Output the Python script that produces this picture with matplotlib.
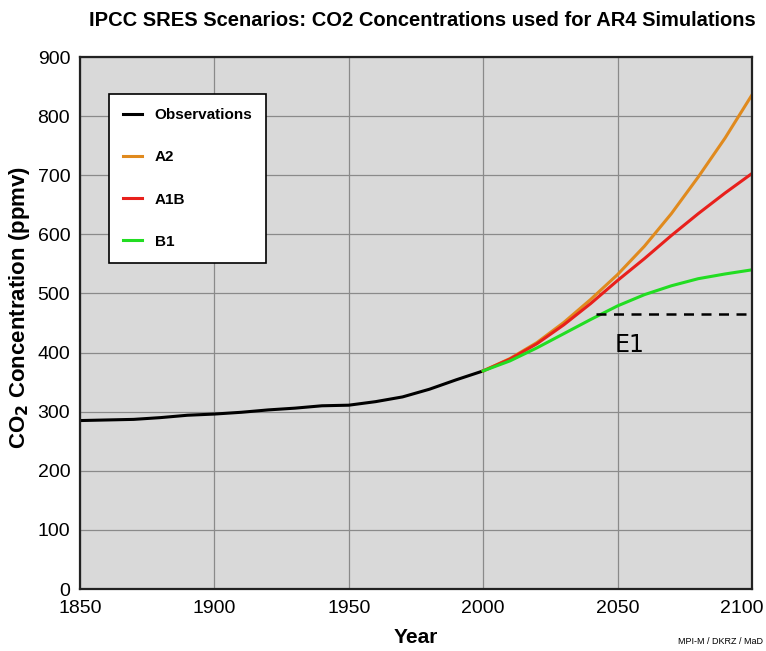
import matplotlib
matplotlib.use("Agg")
import matplotlib.pyplot as plt
import matplotlib.transforms as mtransforms

# observed CO2 (ppmv)
obs_years = [1850, 1860, 1870, 1880, 1890, 1900, 1910, 1920, 1930, 1940,
             1950, 1960, 1970, 1980, 1990, 2000]
obs_co2 = [285, 286, 287, 290, 294, 296, 299, 303, 306, 310,
           311, 317, 325, 338, 354, 369]

# SRES scenarios
scen_years = [2000, 2010, 2020, 2030, 2040, 2050, 2060, 2070, 2080, 2090, 2100]
a2 = [369, 390, 417, 451, 490, 532, 580, 635, 697, 763, 836]
a1b = [369, 389, 415, 447, 483, 522, 559, 598, 635, 670, 703]
b1 = [369, 386, 408, 432, 456, 479, 498, 513, 525, 533, 540]

e1_level = 465
e1_span = [2042, 2099]

xticks = [1850, 1900, 1950, 2000, 2050, 2100]
yticks = [0, 100, 200, 300, 400, 500, 600, 700, 800, 900]

plt.rcParams['font.family'] = ['Liberation Sans', 'DejaVu Sans']

fig = plt.figure(figsize=(7.66, 6.51), dpi=100)
ax = fig.add_axes([0.1044, 0.0952, 0.8773, 0.8172])
ax.set_facecolor('#d9d9d9')

ax.plot(obs_years, obs_co2, color='black', lw=2.2, label='Observations')
ax.plot(scen_years, a2, color='#e08a1e', lw=2.2, label='A2')
ax.plot(scen_years, a1b, color='#e8201c', lw=2.2, label='A1B')
ax.plot(scen_years, b1, color='#22dd22', lw=2.2, label='B1')

ax.hlines(e1_level, e1_span[0], e1_span[1], colors='black',
          linestyles=(0, (4, 3)), lw=1.8)
ax.text(2049, 413, 'E1', fontsize=17, family='DejaVu Sans',
        va='center', ha='left')

ax.set_xlim(1850, 2100)
ax.set_ylim(0, 900)
ax.set_xticks(xticks)
ax.set_yticks(yticks)
ax.tick_params(length=0, labelsize=14)
ax.tick_params(axis='x', pad=8)
ax.tick_params(axis='y', pad=7)
ax.grid(True, color='#8a8a8a', lw=0.9)
ax.set_axisbelow(True)
for s in ax.spines.values():
    s.set_linewidth(1.6)
    s.set_color('#222222')

# last year label pulled in so it stays inside the figure
fig.canvas.draw()
last = ax.get_xticklabels()[-1]
last.set_transform(last.get_transform() +
                   mtransforms.ScaledTranslation(-10 / 100, 0, fig.dpi_scale_trans))

ax.set_xlabel('Year', fontsize=15, fontweight='bold', labelpad=8)
ax.set_ylabel(r'CO$_\mathbf{2}$ Concentration (ppmv)', fontsize=16,
              fontweight='bold')
ax.yaxis.set_label_coords(-0.072, 0.53)

leg = ax.legend(loc='upper left', bbox_to_anchor=(0.043, 0.930), borderaxespad=0,
                prop={'weight': 'bold', 'size': 11},
                handlelength=1.3, handletextpad=0.8, labelspacing=1.85,
                borderpad=0.9, fancybox=False, framealpha=1, edgecolor='black')
leg.get_frame().set_linewidth(1.2)

fig.text(0.552, 0.968, 'IPCC SRES Scenarios: CO2 Concentrations used for AR4 Simulations',
         ha='center', va='center', fontsize=14.5, fontweight='bold')
fig.text(0.885, 0.008, 'MPI-M / DKRZ / MaD', fontsize=6.5, ha='left', va='bottom')

fig.savefig('out.png', dpi=100)
